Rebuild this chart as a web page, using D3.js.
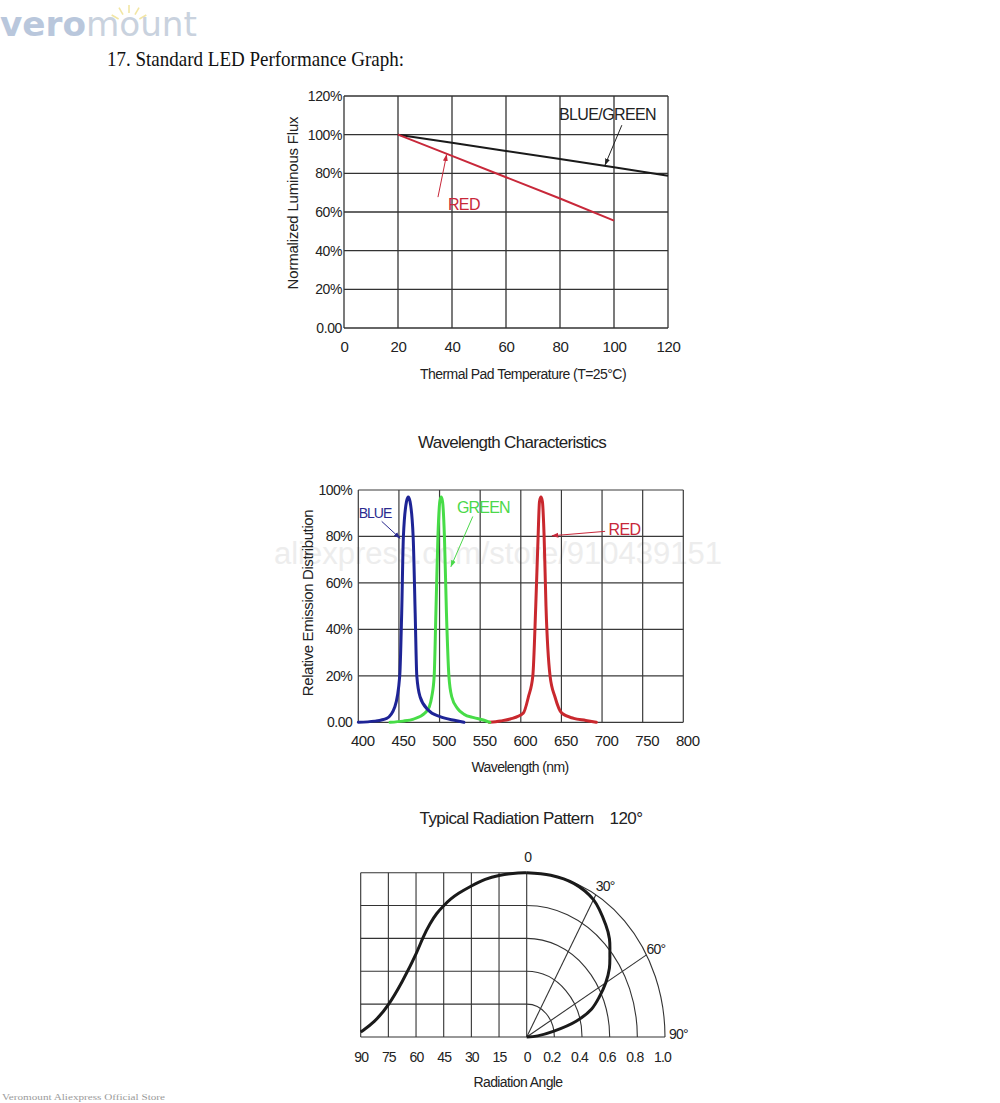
<!DOCTYPE html>
<html>
<head>
<meta charset="utf-8">
<script src="https://cdn.jsdelivr.net/npm/d3@7"></script>
<style>
    body { margin: 0; background: #ffffff; }
    svg text { font-family: "Liberation Sans", Arial, sans-serif; fill: #222; }
</style>
</head>
<body>
<div id="page"></div>
<script>
// --- diagram 1: flux vs temperatur ---
var fluxXTicks = [0, 20, 40, 60, 80, 100, 120];
var fluxYTicks = [0, 20, 40, 60, 80, 100, 120];
var fluxYLabels = ["0.00", "20%", "40%", "60%", "80%", "100%", "120%"];
var fluxTemps = [20, 40, 60, 80, 100, 120];
var fluxBlueGreen = [100, 95.8, 91.6, 87.4, 83.2, 78.8];
var fluxRedTemps = [20, 40, 60, 80, 100];
var fluxRed = [100, 89, 78, 67, 55.5];

// --- diagram 2: våglängd ---
var waveXTicks = [400, 450, 500, 550, 600, 650, 700, 750, 800];
var waveYTicks = [0, 20, 40, 60, 80, 100];
var waveYLabels = ["0.00", "20%", "40%", "60%", "80%", "100%"];
var blueNm = [400, 420, 435, 445, 451, 453.4, 455.5, 459.3, 461.5, 463.7, 467.5, 470, 472, 476, 486, 500.5, 521, 530];
var blueRel = [0, 0.5, 1.7, 6.7, 20, 47, 80, 95, 97, 95, 80, 47, 20, 11, 5.3, 2.4, 0.7, 0];
var greenNm = [439, 455, 468, 482, 487.4, 490.4, 493.4, 495.5, 498, 500.3, 502, 503.7, 506, 508.5, 511.5, 515, 522, 530, 542, 554, 562];
var greenRel = [0, 0.5, 1.4, 4, 6.7, 11, 20, 47, 80, 95, 97, 95, 80, 47, 20, 11, 6, 3.5, 2, 1, 0];
var redNm = [561, 575, 587, 603, 609.4, 614.8, 618.4, 621.3, 623, 624.8, 626.6, 628.7, 631, 636, 642, 650.5, 665, 680, 693];
var redRel = [0, 0.6, 1.4, 3.9, 11, 20, 50, 80, 95, 97, 95, 80, 50, 20, 11, 3.9, 1.7, 0.8, 0];

// --- diagram 3: strålningsmönster ---
var angleTicks = [90, 75, 60, 45, 30, 15, 0];
var ringTicks = [0.2, 0.4, 0.6, 0.8, 1.0];
var ringLabels = ["0.2", "0.4", "0.6", "0.8", "1.0"];
var rowTicks = [0, 0.2, 0.4, 0.6, 0.8, 1.0];
var spokeAngles = [30, 60];
var patternLeftAngles = [90, 82.5, 75, 67.5, 60, 56, 52.5, 48.75, 45, 41.25, 37.5, 30, 22.5, 15, 7.5, 0];
var patternLeftValues = [0.03, 0.09, 0.19, 0.335, 0.5, 0.615, 0.69, 0.755, 0.80, 0.84, 0.872, 0.92, 0.963, 0.985, 0.997, 1.0];
var patternPolarAngles = [0, 10, 20, 30, 40, 45, 50, 55, 60, 65, 70, 75, 80, 85, 90];
var patternPolarRadius = [1.0, 1.0, 0.995, 0.965, 0.89, 0.846, 0.785, 0.73, 0.66, 0.58, 0.5, 0.37, 0.195, 0.08, 0];

var W = 1000, H = 1103;

var svg = d3.select("#page").append("svg")
    .attr("width", W)
    .attr("height", H);

svg.append("rect").attr("width", W).attr("height", H).attr("fill", "#fff");

var defs = svg.append("defs");
function arrowMarker(id, color) {
    defs.append("marker")
        .attr("id", id)
        .attr("viewBox", "0 0 10 10")
        .attr("refX", 9).attr("refY", 5)
        .attr("markerWidth", 7).attr("markerHeight", 7)
        .attr("markerUnits", "userSpaceOnUse")
        .attr("orient", "auto")
        .append("path")
        .attr("d", "M0,1.5 L10,5 L0,8.5 Z")
        .attr("fill", color);
}
arrowMarker("arr-black", "#222");
arrowMarker("arr-red", "#c8283a");
arrowMarker("arr-blue", "#2a2a8f");
arrowMarker("arr-green", "#4bd84b");

// logga + rubrik
function drawHeader() {
    var rays = svg.append("g").attr("stroke", "#f2e6a4").attr("stroke-width", 1.6);
    [-150, -120, -90, -60, -30].forEach(function(a) {
        var r = a * Math.PI / 180;
        rays.append("line")
            .attr("x1", 129 + Math.cos(r) * 12).attr("y1", 25 + Math.sin(r) * 12)
            .attr("x2", 129 + Math.cos(r) * 20).attr("y2", 25 + Math.sin(r) * 20);
    });
    var logo = svg.append("text")
        .attr("x", 0).attr("y", 36)
        .attr("textLength", 197)
        .attr("lengthAdjust", "spacingAndGlyphs")
        .style("font-family", "'DejaVu Sans', sans-serif")
        .style("font-size", "34px");
    logo.append("tspan").text("vero").style("font-weight", "bold").style("fill", "#b9c7dc");
    logo.append("tspan").text("mount").style("fill", "#c9d2de");

    svg.append("text")
        .attr("x", 107).attr("y", 66)
        .attr("textLength", 297)
        .attr("lengthAdjust", "spacingAndGlyphs")
        .style("font-family", "'Liberation Serif', serif")
        .style("font-size", "22px")
        .style("fill", "#111")
        .text("17. Standard LED Performance Graph:");

    svg.append("text")
        .attr("x", 2).attr("y", 1100)
        .attr("textLength", 163)
        .attr("lengthAdjust", "spacingAndGlyphs")
        .style("font-family", "'Liberation Serif', serif")
        .style("font-size", "9px")
        .style("fill", "#9a9a9a")
        .text("Veromount Aliexpress Official Store");
}

function gridLines(g, xs, ys, xTicks, yTicks, color, width) {
    var x0 = xs.domain()[0], x1 = xs.domain()[1];
    var y0 = ys.domain()[0], y1 = ys.domain()[1];
    g.selectAll(".vgrid").data(xTicks).enter().append("line")
        .attr("x1", function(d) { return xs(d); }).attr("x2", function(d) { return xs(d); })
        .attr("y1", ys(y0)).attr("y2", ys(y1))
        .attr("stroke", color).attr("stroke-width", width);
    g.selectAll(".hgrid").data(yTicks).enter().append("line")
        .attr("y1", function(d) { return ys(d); }).attr("y2", function(d) { return ys(d); })
        .attr("x1", xs(x0)).attr("x2", xs(x1))
        .attr("stroke", color).attr("stroke-width", width);
}

function styleAxis(sel, size, spacing) {
    sel.select(".domain").remove();
    sel.selectAll("text")
        .style("font-family", "'Liberation Sans', Arial, sans-serif")
        .style("font-size", size + "px")
        .style("letter-spacing", spacing + "px")
        .attr("fill", "#222");
}

function arrow(g, xs, ys, a, color, marker) {
    g.append("line")
        .attr("x1", xs(a[0])).attr("y1", ys(a[1]))
        .attr("x2", xs(a[2])).attr("y2", ys(a[3]))
        .attr("stroke", color).attr("stroke-width", 1)
        .attr("marker-end", "url(#" + marker + ")");
}

function label(g, xs, ys, t, x, y, color, size, spacing) {
    g.append("text")
        .attr("x", xs(x)).attr("y", ys(y))
        .attr("dy", "0.36em")
        .attr("text-anchor", "middle")
        .style("font-size", size + "px")
        .style("letter-spacing", spacing + "px")
        .style("fill", color)
        .text(t);
}

// diagram 1
function drawFlux() {
    var g = svg.append("g").attr("class", "flux");
    var x = d3.scaleLinear().domain([0, 120]).range([344, 668]);
    var y = d3.scaleLinear().domain([0, 120]).range([328, 96]);

    gridLines(g, x, y, fluxXTicks, fluxYTicks, "#333", 1.3);

    g.append("g").attr("transform", "translate(344,0)")
        .call(d3.axisLeft(y).tickValues(fluxYTicks).tickSize(0).tickPadding(2)
            .tickFormat(function(d, i) { return fluxYLabels[i]; }))
        .call(styleAxis, 14, -0.4);
    g.append("g").attr("transform", "translate(0,328)")
        .call(d3.axisBottom(x).tickValues(fluxXTicks).tickSize(0).tickPadding(13))
        .call(styleAxis, 15, -0.3);

    var line = d3.line()
        .x(function(d) { return x(d[0]); })
        .y(function(d) { return y(d[1]); });

    g.append("path")
        .datum(d3.zip(fluxTemps, fluxBlueGreen))
        .attr("fill", "none").attr("stroke", "#1a1a1a").attr("stroke-width", 2)
        .attr("d", line);
    g.append("path")
        .datum(d3.zip(fluxRedTemps, fluxRed))
        .attr("fill", "none").attr("stroke", "#c8283a").attr("stroke-width", 2)
        .attr("d", line);

    arrow(g, x, y, [102.9, 104.9, 96.7, 84.4], "#222", "arr-black");
    arrow(g, x, y, [34.8, 67.7, 38, 89.6], "#c8283a", "arr-red");
    label(g, x, y, "BLUE/GREEN", 97.6, 110.6, "#222", 16, -0.6);
    label(g, x, y, "RED", 44.4, 64.1, "#c8283a", 16, -0.6);

    g.append("text")
        .attr("x", 523).attr("y", 379)
        .attr("text-anchor", "middle")
        .style("font-size", "14px").style("letter-spacing", "-0.55px")
        .text("Thermal Pad Temperature (T=25°C)");
    g.append("text")
        .attr("transform", "translate(298,203) rotate(-90)")
        .attr("text-anchor", "middle")
        .style("font-size", "15px").style("letter-spacing", "-0.2px")
        .text("Normalized Luminous Flux");
}

// diagram 2
function drawWave() {
    var g = svg.append("g").attr("class", "wave");
    var x = d3.scaleLinear().domain([400, 800]).range([358.3, 683.3]);
    var y = d3.scaleLinear().domain([0, 100]).range([722.3, 490]);

    g.append("text")
        .attr("x", 512).attr("y", 448)
        .attr("text-anchor", "middle")
        .style("font-size", "17px").style("letter-spacing", "-0.7px")
        .text("Wavelength Characteristics");

    // vattenstämpel
    g.append("text")
        .attr("x", 498).attr("y", 564)
        .attr("text-anchor", "middle")
        .style("font-size", "31px")
        .style("fill", "#ededed")
        .text("aliexpress.com/store/910439151");

    gridLines(g, x, y, waveXTicks, waveYTicks, "#3a3a3a", 1.2);

    g.append("g").attr("transform", "translate(358.3,0)")
        .call(d3.axisLeft(y).tickValues(waveYTicks).tickSize(0).tickPadding(6)
            .tickFormat(function(d, i) { return waveYLabels[i]; }))
        .call(styleAxis, 14, -0.5);
    g.append("g").attr("transform", "translate(0,722.3)")
        .call(d3.axisBottom(x).tickValues(waveXTicks).tickSize(0).tickPadding(13))
        .call(styleAxis, 15, -0.4)
        .selectAll("text").attr("dx", 4);

    var line = d3.line()
        .curve(d3.curveMonotoneX)
        .x(function(d) { return x(d[0]); })
        .y(function(d) { return y(d[1]); });

    var series = [
        {nm: redNm, rel: redRel, color: "#c9282e"},
        {nm: greenNm, rel: greenRel, color: "#47dc47"},
        {nm: blueNm, rel: blueRel, color: "#1e2496"}
    ];
    series.forEach(function(s) {
        g.append("path")
            .datum(d3.zip(s.nm, s.rel))
            .attr("fill", "none")
            .attr("stroke", s.color)
            .attr("stroke-width", 3)
            .attr("stroke-linejoin", "round")
            .attr("stroke-linecap", "round")
            .attr("d", line);
    });

    arrow(g, x, y, [428.8, 86.5, 451.4, 79.2], "#2a2a8f", "arr-blue");
    arrow(g, x, y, [540.9, 88.6, 514, 67], "#4bd84b", "arr-green");
    arrow(g, x, y, [703.8, 82.2, 638.5, 80.3], "#c8283a", "arr-red");
    label(g, x, y, "BLUE", 420.6, 90.2, "#2b2b8f", 14, -1);
    label(g, x, y, "GREEN", 554, 92.7, "#4bd84b", 16, -0.8);
    label(g, x, y, "RED", 727.6, 83.2, "#c8283a", 16, -0.6);

    g.append("text")
        .attr("x", 520).attr("y", 772)
        .attr("text-anchor", "middle")
        .style("font-size", "14px").style("letter-spacing", "-0.6px")
        .text("Wavelength (nm)");
    g.append("text")
        .attr("transform", "translate(313,603) rotate(-90)")
        .attr("text-anchor", "middle")
        .style("font-size", "15px").style("letter-spacing", "-0.4px")
        .text("Relative Emission Distribution");
}

// diagram 3
function drawPattern() {
    var g = svg.append("g").attr("class", "pattern");
    var ax = d3.scaleLinear().domain([90, 0]).range([360.7, 526.7]);
    var vy = d3.scaleLinear().domain([0, 1]).range([1037, 872.7]);
    var rx = d3.scaleLinear().domain([0, 1]).range([0, 138.3]);
    var rr = d3.scaleLinear().domain([0, 1]).range([526.7, 665]);
    var ox = ax(0), oy = vy(0);

    function polar(theta, r) {
        var t = theta * Math.PI / 180;
        return [ox + rx(r * Math.sin(t)), vy(r * Math.cos(t))];
    }

    var title = g.append("text")
        .attr("x", 531).attr("y", 824)
        .attr("text-anchor", "middle")
        .style("font-size", "17px").style("letter-spacing", "-0.6px");
    title.append("tspan").text("Typical Radiation Pattern");
    title.append("tspan").attr("dx", 16).text("120°");

    var grid = g.append("g").attr("stroke", "#333").attr("stroke-width", 1.1).attr("fill", "none");
    grid.selectAll(".col").data(angleTicks).enter().append("line")
        .attr("x1", function(d) { return ax(d); }).attr("x2", function(d) { return ax(d); })
        .attr("y1", vy(0)).attr("y2", vy(1));
    grid.selectAll(".row").data(rowTicks).enter().append("line")
        .attr("x1", ax(90)).attr("x2", ox)
        .attr("y1", function(d) { return vy(d); }).attr("y2", function(d) { return vy(d); });
    grid.append("line")
        .attr("x1", ox).attr("x2", rr(1))
        .attr("y1", oy).attr("y2", oy);
    grid.selectAll(".ring").data(ringTicks).enter().append("path")
        .attr("d", function(k) {
            return "M" + ox + "," + vy(k) +
                " A" + rx(k) + "," + (oy - vy(k)) + " 0 0 1 " + (ox + rx(k)) + "," + oy;
        });
    grid.selectAll(".spoke").data(spokeAngles).enter().append("line")
        .attr("x1", ox).attr("y1", oy)
        .attr("x2", function(d) { return polar(d, 1)[0]; })
        .attr("y2", function(d) { return polar(d, 1)[1]; });

    // kurva: vänster sida kartesisk, höger sida polär
    var leftPts = d3.zip(patternLeftAngles, patternLeftValues).map(function(d) {
        return [ax(d[0]), vy(d[1])];
    });
    var rightPts = d3.zip(patternPolarAngles, patternPolarRadius).map(function(d) {
        return polar(d[0], d[1]);
    });
    var curve = d3.line().curve(d3.curveBasis);
    var curveR = d3.line().curve(d3.curveCatmullRom.alpha(0.5));
    g.append("path")
        .attr("d", curve(leftPts))
        .attr("fill", "none").attr("stroke", "#1a1a1a").attr("stroke-width", 3);
    g.append("path")
        .attr("d", curveR(rightPts))
        .attr("fill", "none").attr("stroke", "#1a1a1a").attr("stroke-width", 3);

    g.append("g").attr("transform", "translate(0," + oy + ")")
        .call(d3.axisBottom(ax).tickValues(angleTicks).tickSize(0).tickPadding(15))
        .call(styleAxis, 14, -0.8);
    g.append("g").attr("transform", "translate(0," + oy + ")")
        .call(d3.axisBottom(rr).tickValues(ringTicks).tickSize(0).tickPadding(15)
            .tickFormat(function(d, i) { return ringLabels[i]; }))
        .call(styleAxis, 14, -0.8)
        .selectAll("text").attr("dx", -3);

    var p30 = polar(30, 1), p60 = polar(60, 1), p90 = polar(90, 1), p0 = polar(0, 1);
    var angLab = [["0", p0[0] + 1, p0[1] - 11, "middle"], ["30°", p30[0], p30[1] - 4, "start"],
        ["60°", p60[0], p60[1] - 1, "start"], ["90°", p90[0] + 4, p90[1] + 2, "start"]];
    g.selectAll(".anglab").data(angLab).enter().append("text")
        .attr("x", function(d) { return d[1]; })
        .attr("y", function(d) { return d[2]; })
        .attr("text-anchor", function(d) { return d[3]; })
        .style("font-size", "14px").style("letter-spacing", "-0.8px")
        .text(function(d) { return d[0]; });

    g.append("text")
        .attr("x", 518).attr("y", 1087)
        .attr("text-anchor", "middle")
        .style("font-size", "14px").style("letter-spacing", "-0.6px")
        .text("Radiation Angle");
}

drawHeader();
drawFlux();
drawWave();
drawPattern();
console.log("LED charts done");
</script>
</body>
</html>
